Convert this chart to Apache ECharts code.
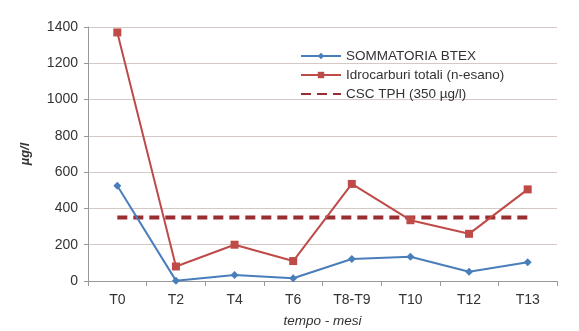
<!DOCTYPE html>
<html>
<head>
<meta charset="utf-8">
<script src="https://cdn.jsdelivr.net/npm/echarts@6/dist/echarts.min.js"></script>
<style>
  html, body { margin: 0; padding: 0; background: #fff; }
  #chart { width: 579px; height: 331px; }
</style>
</head>
<body>
<div id="chart"></div>
<script>
// Sampling campaigns
const categories = ['T0', 'T2', 'T4', 'T6', 'T8-T9', 'T10', 'T12', 'T13'];
// Sum of BTEX (µg/l)
const btexValues = [525, 2, 33, 15, 121, 134, 51, 103];
// Total hydrocarbons as n-hexane (µg/l)
const tphValues = [1370, 80, 200, 110, 535, 335, 260, 505];
// CSC threshold for TPH (µg/l)
const cscValues = [350, 350, 350, 350, 350, 350, 350, 350];
const yTicks = { min: 0, max: 1400, interval: 200 };

const font = 'Liberation Sans, Arial, sans-serif';
const chart = echarts.init(document.getElementById('chart'), null, { renderer: 'canvas' });

chart.setOption({
  backgroundColor: '#ffffff',
  animation: false,
  textStyle: { fontFamily: font },
  grid: { left: 88, right: 22, top: 27, bottom: 50, containLabel: false, outerBoundsMode: 'none' },
  legend: {
    orient: 'vertical',
    left: 295,
    top: 44,
    padding: 5,
    itemWidth: 40,
    itemHeight: 8,
    itemGap: 5,
    textStyle: { fontFamily: font, fontSize: 13.5, color: '#333' },
    data: [
      { name: 'SOMMATORIA BTEX' },
      { name: 'Idrocarburi totali (n-esano)' },
      { name: 'CSC TPH (350 µg/l)', itemStyle: { opacity: 0 } }
    ]
  },
  xAxis: {
    type: 'category',
    data: categories,
    boundaryGap: true,
    name: 'tempo - mesi',
    nameLocation: 'middle',
    nameGap: 33,
    nameTextStyle: { fontStyle: 'italic', fontSize: 13.5, color: '#333', fontFamily: font },
    axisLine: { lineStyle: { color: '#999', width: 1 } },
    axisTick: { show: true, length: 5, lineStyle: { color: '#999' } },
    axisLabel: { fontSize: 14, color: '#333', margin: 12, fontFamily: font }
  },
  yAxis: {
    type: 'value',
    min: yTicks.min,
    max: yTicks.max,
    interval: yTicks.interval,
    name: 'µg/l',
    nameLocation: 'middle',
    nameRotate: 90,
    nameGap: 56,
    nameTextStyle: { fontStyle: 'italic', fontWeight: 'bold', fontSize: 13, color: '#333', fontFamily: font },
    axisLine: { show: true, lineStyle: { color: '#999', width: 1 } },
    axisTick: { show: true, length: 4, lineStyle: { color: '#999' } },
    axisLabel: { fontSize: 14, color: '#333', margin: 10, fontFamily: font, formatter: v => String(v) },
    splitLine: { lineStyle: { color: '#d4c9c4', width: 1 } }
  },
  series: [
    {
      name: 'SOMMATORIA BTEX',
      type: 'line',
      data: btexValues,
      symbol: 'diamond',
      symbolSize: 8,
      color: '#4a7ebb',
      lineStyle: { color: '#4a7ebb', width: 2 },
      itemStyle: { color: '#4a7ebb' },
      z: 3
    },
    {
      name: 'Idrocarburi totali (n-esano)',
      type: 'line',
      data: tphValues,
      symbol: 'rect',
      symbolSize: 8,
      color: '#be4b48',
      lineStyle: { color: '#be4b48', width: 2 },
      itemStyle: { color: '#be4b48' },
      z: 3
    },
    {
      name: 'CSC TPH (350 µg/l)',
      type: 'line',
      data: cscValues,
      symbol: 'none',
      color: '#9b2d30',
      lineStyle: { color: '#9b2d30', width: 4, type: [10, 6] },
      z: 2
    }
  ]
});
</script>
</body>
</html>
